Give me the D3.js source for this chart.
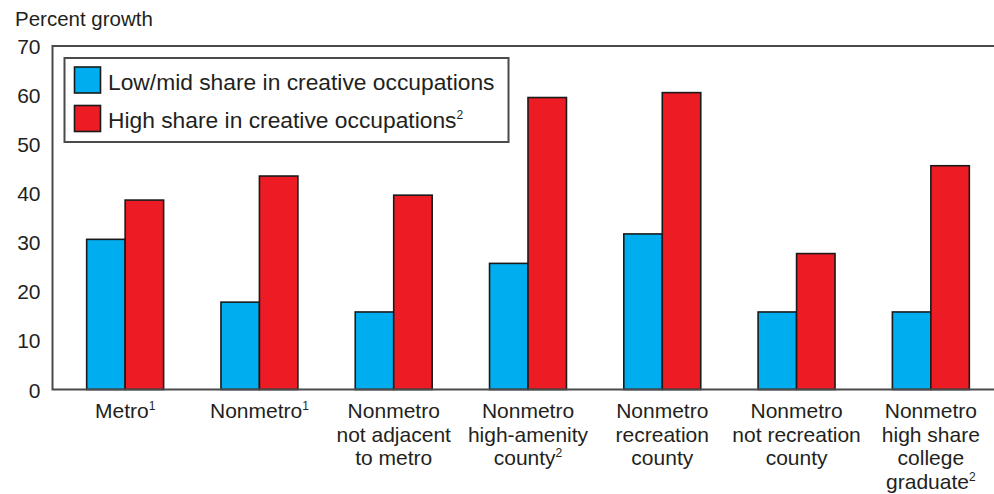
<!DOCTYPE html>
<html><head><meta charset="utf-8">
<script src="https://cdn.jsdelivr.net/npm/d3@7"></script>
<style>body{margin:0;background:#fff}svg{display:block}text{font-family:"Liberation Sans",Arial,sans-serif;fill:#231f20}</style>
</head><body><svg id="c" width="994" height="494"></svg>
<script>
const categories = ["Metro", "Nonmetro", "Nonmetro not adjacent to metro", "Nonmetro high-amenity county", "Nonmetro recreation county", "Nonmetro not recreation county", "Nonmetro high share college graduate"];
const categoryLines = [["Metro|1"], ["Nonmetro|1"], ["Nonmetro", "not adjacent", "to metro"], ["Nonmetro", "high-amenity", "county|2"], ["Nonmetro", "recreation", "county"], ["Nonmetro", "not recreation", "county"], ["Nonmetro", "high share", "college", "graduate|2"]];
const seriesNames = ["Low/mid share in creative occupations", "High share in creative occupations"];
const seriesSup = ["", "2"];
const lowMid = [30.6, 17.8, 15.8, 25.7, 31.7, 15.8, 15.8];
const high = [38.6, 43.5, 39.6, 59.5, 60.5, 27.7, 45.6];
const yTicks = [0, 10, 20, 30, 40, 50, 60, 70];
const colors = ["#00aeef", "#ed1c24"];

const svg = d3.select("#c");
const pL = 52.5, pT = 46, pB = 389.5, pR = 994;
const y = d3.scaleLinear().domain([0, 70]).range([pB, pT]);
const x0 = d3.scaleBand().domain(categories).range([58, 998]).paddingInner(0.427).paddingOuter(0.2135);
const x1 = d3.scaleBand().domain([0, 1]).range([0, x0.bandwidth()]);

svg.append("text").attr("x", 15).attr("y", 26).attr("font-size", 20.5).text("Percent growth");

// y tick labels
const yAxis = d3.axisLeft(y).tickValues(yTicks).tickSize(0).tickPadding(12);
const ga = svg.append("g").attr("transform", `translate(${pL},0)`).call(yAxis);
ga.select(".domain").remove();
ga.selectAll("text").attr("font-size", 21).attr("fill", "#231f20").attr("font-family", "Liberation Sans, Arial, sans-serif").attr("dy", "0.36em");

// bars
const data = categories.map((c, i) => ({c, v: [lowMid[i], high[i]]}));
const g = svg.selectAll("g.grp").data(data).join("g").attr("class", "grp").attr("transform", d => `translate(${x0(d.c)},0)`);
g.selectAll("rect").data(d => d.v.map((v, k) => ({v, k}))).join("rect")
  .attr("x", d => x1(d.k)).attr("width", x1.bandwidth())
  .attr("y", d => y(d.v)).attr("height", d => y(0) - y(d.v))
  .attr("fill", d => colors[d.k]).attr("stroke", "#1a1a1a").attr("stroke-width", 1.6);

// frame
svg.append("path").attr("d", `M${pR},${pT}H${pL}V${pB}H${pR}`).attr("fill", "none").attr("stroke", "#4a4a4a").attr("stroke-width", 2);

// x labels
categoryLines.forEach((lines, i) => {
  const cx = x0(categories[i]) + x0.bandwidth() / 2;
  lines.forEach((ln, j) => {
    const [txt, sup] = ln.split("|");
    const t = svg.append("text").attr("x", cx).attr("y", 418 + j * 23.5).attr("text-anchor", "middle").attr("font-size", 21);
    t.append("tspan").text(txt);
    if (sup) t.append("tspan").attr("font-size", 12).attr("dy", -8).text(sup);
  });
});

// legend
const lg = svg.append("g");
lg.append("rect").attr("x", 64.5).attr("y", 58).attr("width", 444).attr("height", 84).attr("fill", "#fff").attr("stroke", "#4a4a4a").attr("stroke-width", 2);
seriesNames.forEach((s, k) => {
  const yy = 67 + k * 38.5;
  lg.append("rect").attr("x", 74.5).attr("y", yy).attr("width", 26).attr("height", 26).attr("fill", colors[k]).attr("stroke", "#1a1a1a").attr("stroke-width", 1.6);
  const t = lg.append("text").attr("x", 108).attr("y", yy + 22.5).attr("font-size", 22.8);
  t.append("tspan").text(s);
  if (seriesSup[k]) t.append("tspan").attr("font-size", 12).attr("dy", -9).text(seriesSup[k]);
});
</script></body></html>
